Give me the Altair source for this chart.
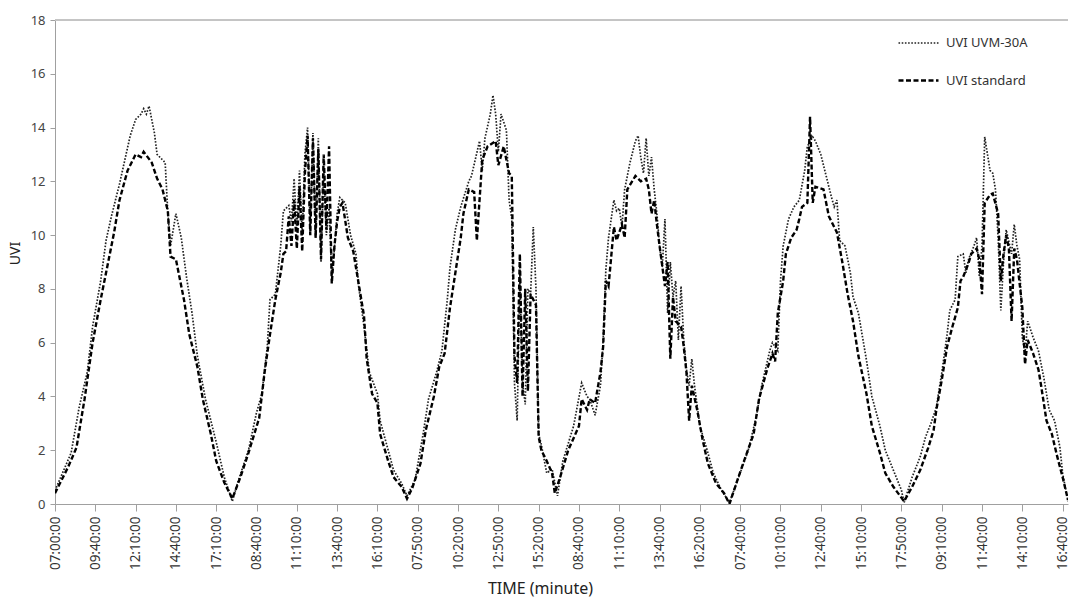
import json
import altair as alt
import pandas as pd

tick_labels = ["07:00:00", "09:40:00", "12:10:00", "14:40:00", "17:10:00", "08:40:00",
               "11:10:00", "13:40:00", "16:10:00", "07:50:00", "10:20:00", "12:50:00",
               "15:20:00", "08:40:00", "11:10:00", "13:40:00", "16:20:00", "07:40:00",
               "10:10:00", "12:40:00", "15:10:00", "17:50:00", "09:10:00", "11:40:00",
               "14:10:00", "16:40:00"]

series_names = ["UVI UVM-30A", "UVI standard"]

# UVI UVM-30A (sample index, value)
uvm_idx = [0, 6, 9, 12, 14, 17, 19, 21, 24, 28, 30, 32, 33, 34, 35, 37, 38, 41, 42, 43, 45, 47, 49, 51, 53, 56, 60, 63, 66,
           68, 72, 75, 77, 79, 80, 82, 84, 85, 87, 88, 89, 90, 91, 92, 93, 94, 95, 96, 97, 98, 99, 100, 101, 102, 103, 104, 105, 106, 108, 110, 112, 113, 115, 117, 120, 121, 124, 126, 129, 131,
           134, 137, 139, 142, 144, 146, 147, 149, 151, 154, 155, 158, 159, 160, 162, 163, 164, 165, 166, 168, 169, 170, 171, 172, 173, 174, 175, 176, 177, 178, 179, 180, 181, 183, 185, 187,
           189, 193, 196, 198, 199, 201, 203, 204, 205, 206, 208, 209, 210, 211, 212, 214, 216, 217, 218, 219, 220, 221, 222, 223, 224, 225, 226, 227, 228, 229, 230, 231, 232, 233, 234, 235, 236, 237, 238, 240, 243, 245, 248, 251,
           255, 258, 261, 263, 266, 267, 269, 270, 271, 273, 275, 277, 279, 280, 282, 283, 285, 287, 289, 290, 291, 292, 294, 296, 297, 299, 302, 304, 307, 309, 312, 315, 316,
           319, 322, 324, 326, 328, 330, 332, 333, 335, 336, 338, 339, 340, 342, 343, 344, 345, 346, 348, 349, 350, 351, 352, 353, 354, 356, 357, 358, 359, 360, 361, 362, 364, 366, 368, 370, 372, 374, 375, 377]
uvm_val = [0.5, 1.9, 3.6, 4.9, 6.6, 8.3, 9.8, 10.7, 11.9, 13.7, 14.3, 14.5, 14.7, 14.5, 14.8, 13.8, 13.0, 12.7, 10.8, 9.6, 10.8, 9.9, 8.4, 7.1, 5.5, 3.9, 2.3, 1.0, 0.1,
           0.8, 2.0, 3.4, 4.1, 5.85, 7.6, 7.8, 9.6, 10.9, 11.1, 10.5, 12.1, 10.2, 12.4, 10.0, 13.0, 14.0, 10.2, 13.8, 9.9, 13.6, 9.0, 12.5, 10.0, 11.0, 8.5, 9.5, 10.8, 11.4, 11.2, 10.0, 9.3, 8.1, 6.6, 4.9, 4.1, 3.1, 2.0, 1.26, 0.77, 0.3,
           0.9, 2.6, 3.9, 4.9, 5.7, 7.6, 8.8, 10.2, 11.05, 12.0, 12.2, 13.5, 12.4, 13.6, 14.5, 15.2, 14.5, 13.1, 14.5, 13.9, 11.3, 10.6, 4.5, 3.1, 8.5, 4.5, 3.7, 8.0, 7.8, 10.3, 8.0, 2.6, 2.2, 1.15, 1.3, 0.3,
           1.6, 2.9, 4.5, 4.0, 3.9, 3.3, 4.4, 6.1, 8.7, 9.9, 11.3, 10.9, 11.0, 10.3, 11.7, 12.7, 13.5, 13.7, 12.9, 12.3, 13.6, 12.2, 12.9, 11.7, 10.8, 9.6, 8.8, 10.6, 7.1, 9.0, 7.7, 8.3, 6.1, 8.1, 6.1, 5.0, 4.4, 5.4, 4.4, 2.9, 1.9, 1.15, 0.52, 0.05,
           1.15, 2.0, 3.25, 4.4, 5.7, 6.0, 5.7, 8.3, 9.6, 10.6, 11.05, 11.3, 12.4, 13.3, 13.65, 13.5, 13.0, 12.2, 11.4, 11.05, 11.3, 9.8, 9.6, 8.6, 7.7, 7.1, 5.35, 4.0, 2.9, 2.0, 1.26, 0.52, 0.05,
           1.0, 1.76, 2.5, 3.0, 3.6, 4.86, 6.3, 7.2, 7.6, 9.2, 9.3, 8.6, 9.1, 9.6, 9.9, 8.45, 9.6, 13.65, 12.4, 12.3, 11.7, 9.9, 7.2, 9.0, 10.2, 9.3, 10.4, 9.6, 9.1, 6.2, 5.6, 6.8, 6.2, 5.7, 4.7, 3.5, 3.1, 2.1, 1.14, 0.1]

# UVI standard (sample index, value)
std_idx = [0, 5, 8, 11, 14, 17, 19, 22, 24, 27, 30, 32, 33, 36, 38, 40, 42, 43, 45, 48, 50, 53, 55, 58, 60, 63, 66,
           69, 72, 76, 78, 80, 82, 84, 85, 86, 87, 88, 89, 90, 91, 92, 93, 94, 95, 96, 97, 98, 99, 100, 101, 102, 103, 104, 105, 106, 107, 109, 111, 113, 115, 116, 118, 120, 121, 124, 126, 129, 131,
           133, 136, 138, 141, 143, 145, 147, 149, 151, 152, 154, 156, 157, 159, 161, 164, 165, 167, 169, 170, 171, 172, 173, 174, 175, 176, 177, 178, 179, 180, 181, 183, 185, 186,
           188, 191, 195, 196, 198, 199, 201, 203, 204, 205, 206, 208, 209, 211, 212, 213, 216, 218, 220, 221, 222, 223, 224, 225, 227, 228, 229, 230, 231, 233, 234, 235, 236, 237, 239, 241, 243, 246, 249, 251,
           254, 257, 260, 262, 265, 267, 268, 269, 271, 272, 274, 276, 277, 278, 280, 281, 282, 283, 286, 288, 291, 293, 295, 297, 299, 302, 304, 307, 309, 312, 316,
           319, 322, 325, 327, 328, 330, 332, 334, 336, 337, 338, 340, 341, 343, 344, 345, 346, 348, 349, 351, 352, 353, 354, 355, 356, 357, 358, 360, 361, 362, 364, 366, 367, 369, 371, 373, 375, 377]
std_val = [0.4, 1.4, 2.1, 3.9, 6.0, 7.6, 8.6, 10.1, 11.3, 12.4, 13.0, 12.9, 13.1, 12.7, 12.1, 11.7, 10.9, 9.2, 9.1, 7.6, 6.3, 5.1, 3.9, 2.6, 1.6, 0.8, 0.2,
           1.0, 1.9, 3.2, 4.9, 6.3, 7.6, 8.6, 9.3, 9.4, 10.7, 9.6, 11.3, 9.5, 11.8, 9.4, 12.3, 13.7, 10.0, 13.6, 9.9, 13.2, 9.1, 13.0, 10.2, 13.3, 8.2, 9.6, 10.5, 11.05, 11.2, 9.9, 9.4, 8.2, 7.0, 5.4, 4.1, 3.75, 2.6, 1.6, 1.0, 0.64, 0.2,
           0.6, 1.5, 2.75, 4.0, 5.1, 5.6, 7.3, 8.6, 9.9, 10.8, 11.7, 11.6, 9.8, 12.8, 13.3, 13.5, 12.6, 13.3, 12.3, 12.2, 5.5, 4.5, 9.3, 4.0, 8.0, 4.2, 7.8, 7.6, 7.4, 2.5, 2.0, 1.6, 1.15, 0.4,
           1.0, 2.0, 2.9, 3.9, 3.5, 3.9, 3.75, 4.9, 5.85, 8.3, 8.1, 10.3, 9.8, 10.4, 9.9, 11.7, 12.2, 12.0, 12.1, 11.7, 10.8, 11.3, 10.4, 9.6, 8.1, 9.0, 5.4, 7.7, 6.8, 6.6, 5.85, 4.9, 3.1, 4.4, 3.5, 2.4, 1.5, 0.77, 0.4, 0.0,
           0.9, 1.76, 2.6, 3.9, 5.0, 5.6, 5.3, 7.1, 8.3, 9.3, 9.9, 10.2, 10.6, 11.05, 11.2, 14.4, 11.2, 11.8, 11.7, 10.7, 10.1, 9.0, 7.8, 6.8, 5.5, 4.1, 2.9, 1.9, 1.15, 0.64, 0.1,
           0.64, 1.26, 2.1, 2.75, 3.5, 4.6, 5.85, 6.6, 7.3, 8.3, 8.45, 8.96, 9.3, 9.5, 9.1, 7.8, 11.2, 11.5, 11.55, 10.8, 8.3, 9.3, 10.0, 9.5, 6.8, 9.5, 9.1, 7.3, 5.2, 6.1, 5.6, 5.0, 4.4, 3.1, 2.6, 1.76, 1.0, 0.15]

rows = [{"t": i, "uvi": v, "series": series_names[0]} for i, v in zip(uvm_idx, uvm_val)]
rows += [{"t": i, "uvi": v, "series": series_names[1]} for i, v in zip(std_idx, std_val)]
df = pd.DataFrame(rows)

FONT = "Noto Sans"
label_expr = json.dumps(tick_labels) + "[round(datum.value / 15)]"

legend = alt.Legend(
    title=None, orient="none", legendX=842, legendY=2,
    symbolType="stroke", symbolSize=1600, rowPadding=9, padding=0,
    labelFontSize=13, labelColor="#333333", labelFont=FONT, labelOffset=6,
)

lines = alt.Chart(df).mark_line(clip=True).encode(
    x=alt.X("t:Q",
            scale=alt.Scale(domain=[0, 377], nice=False, zero=False),
            axis=alt.Axis(values=list(range(0, 376, 15)), labelExpr=label_expr,
                          labelAngle=-90, labelFontSize=13.5, labelColor="#333333",
                          labelPadding=5, tickSize=7, grid=False,
                          title="TIME (minute)", titleFontSize=16, titleFontWeight="normal",
                          titleColor="#222222", titleX=485, titleY=84,
                          titleBaseline="middle", titleAlign="center")),
    y=alt.Y("uvi:Q",
            scale=alt.Scale(domain=[0, 18], nice=False),
            axis=alt.Axis(values=list(range(0, 19, 2)), labelFontSize=13,
                          labelColor="#444444", labelPadding=5, tickSize=5, grid=False,
                          title="UVI", titleFontSize=14, titleFontWeight="normal",
                          titleColor="#222222", titleX=-40, titleY=233,
                          titleBaseline="middle", titleAlign="center")),
    color=alt.Color("series:N", scale=alt.Scale(domain=series_names, range=["#222222", "#000000"]),
                    legend=legend),
    strokeDash=alt.StrokeDash("series:N", scale=alt.Scale(domain=series_names, range=[[1.6, 1.6], [5, 2.5]]),
                              legend=legend),
    strokeWidth=alt.StrokeWidth("series:N", scale=alt.Scale(domain=series_names, range=[1.7, 2.4]),
                                legend=legend),
)

top_line = alt.Chart(df).mark_rule(color="#c4c4c4", strokeWidth=1).encode(y=alt.datum(18))

chart = alt.layer(top_line, lines).properties(
    width=1013, height=484,
    autosize=alt.AutoSizeParams(type="none"),
    padding={"left": 55, "top": 20, "right": 2, "bottom": 94},
    background="white",
).configure_view(stroke=None).configure_axis(
    domainColor="#a0a0a0", tickColor="#a0a0a0", labelFont=FONT, titleFont=FONT,
).configure_legend(labelFont=FONT)

chart.save("out.html", embed_options={"renderer": "svg", "actions": False})
